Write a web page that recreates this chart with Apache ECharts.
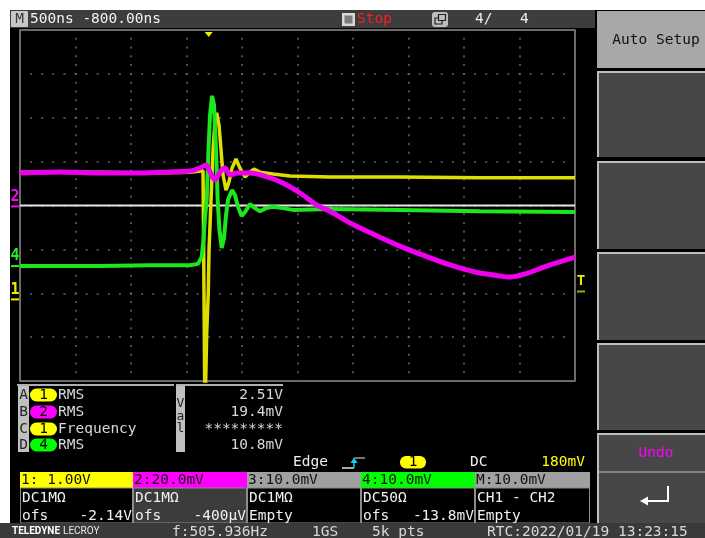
<!DOCTYPE html>
<html><head><meta charset="utf-8">
<script src="https://cdn.jsdelivr.net/npm/echarts@6/dist/echarts.min.js"></script>
<style>html,body{margin:0;padding:0;background:#fff;}#c{width:705px;height:538px;}</style>
</head><body><div id="c"></div>
<script>
// ---- acquisition settings ----
const timePerDiv = 500;     // ns / div
const timeLeft = -1700;     // ns at left edge of screen (trigger at 0)
const ch1Scale = 1.0, ch1Offset = -2.14;   // V/div, V
const ch2Scale = 20,  ch2Offset = -0.4;    // mV/div, mV
const ch4Scale = 10,  ch4Offset = -13.8;   // mV/div, mV
const trigLevel = 0.18;                    // V on CH1
const mathLevel = 0;                       // div (white trace)

// ---- CH1 (yellow), volts ----
const ch1Time  = [-1700,-979,-529,-168,-51,-33,-27,-18,-4,3,21,39,57,72,93,111,129,156,183,210,246,282,327,372,408,462,579,732,1093,1723,2444,3300];
const ch1Volts = [2.90,2.90,2.88,2.90,2.93,-2.86,-1.86,-0.77,0.15,1.13,2.27,3.40,4.09,4.25,3.97,3.40,2.84,2.49,2.68,2.99,3.20,2.99,2.79,2.90,2.97,2.90,2.86,2.81,2.79,2.79,2.77,2.77];
// ---- CH2 (magenta), mV ----
const ch2Time = [-1700,-1340,-979,-619,-349,-168,-78,-24,12,57,102,147,192,255,372,507,669,823,976,1120,1273,1498,1723,1949,2174,2399,2624,2714,2850,3075,3300];
const ch2mV   = [15.2,15.7,15.2,15.2,15.7,16.1,17.5,18.9,15.7,12.0,15.7,17.5,14.3,15.2,15.2,13.8,10.7,6.1,0.6,-3.0,-7.6,-13.0,-18.1,-22.6,-26.7,-29.9,-31.7,-32.2,-30.8,-26.7,-23.1];
// ---- CH4 (green), mV ----
const ch4Time = [-1700,-979,-529,-168,-96,-63,-47,-33,-18,-2,12,30,48,66,81,97,117,138,156,174,210,237,264,297,327,372,417,462,516,579,669,759,1093,1723,2444,3300];
const ch4mV   = [0.0,0.0,0.2,0.2,0.5,2.1,5.9,11.2,15.1,26.4,34.4,38.8,36.7,26.4,15.1,8.2,4.1,6.4,11.6,15.1,17.3,16.2,13.5,11.4,12.3,14.1,13.2,12.5,13.2,13.5,13.2,12.8,13.0,12.8,12.5,12.3];

// ---- panel texts ----
const measLetters = ['A','B','C','D'];
const measChannels = ['1','2','1','4'];
const measNames = ['RMS','RMS','Frequency','RMS'];
const measValues = ['2.51V','19.4mV','*********','10.8mV'];
const chHeaders = ['1: 1.00V','2:20.0mV','3:10.0mV','4:10.0mV','M:10.0mV'];
const chLine2 = ['DC1MΩ','DC1MΩ','DC1MΩ','DC50Ω','CH1 - CH2'];
const chLine3L = ['ofs','ofs','Empty','ofs','Empty'];
const chLine3R = ['-2.14V','-400µV','','-13.8mV',''];

const MONO = '"DejaVu Sans Mono", "Liberation Mono", monospace';
const YEL = '#ffff00', MAG = '#ff00ff', GRN = '#00ff00', GRY = '#a0a0a0';

const toX = t => (t - timeLeft) / timePerDiv;
const toDiv = (v, s, o) => (v + o) / s;
const mk = (ts, vs, s, o) => ts.map((t, i) => [toX(t), toDiv(vs[i], s, o)]);

const chart = echarts.init(document.getElementById('c'));
chart.setOption({
  animation: false,
  backgroundColor: '#000',
  grid: {left: 20, top: 30, width: 555, height: 351, show: true, backgroundColor: '#000', borderColor: '#8e8e8e', borderWidth: 1.5},
  xAxis: {type: 'value', min: 0, max: 10, interval: 1,
    axisLine: {show: false}, axisTick: {show: false}, axisLabel: {show: false},
    splitLine: {show: true, lineStyle: {color: '#686868', width: 1.5, type: [2, 6.775], dashOffset: 1}}},
  yAxis: {type: 'value', min: -4, max: 4, interval: 1,
    axisLine: {show: false}, axisTick: {show: false}, axisLabel: {show: false},
    splitLine: {show: true, lineStyle: {color: '#686868', width: 1.5, type: [2, 9.1], dashOffset: 1}}},
  series: [
    {type: 'line', data: [[0, mathLevel], [10, mathLevel]], symbol: 'none', silent: true,
      lineStyle: {color: '#e6e6e6', width: 2}},
    {type: 'line', data: mk(ch1Time, ch1Volts, ch1Scale, ch1Offset), symbol: 'none', silent: true,
      lineStyle: {color: '#dede00', width: 3.5}},
    {type: 'line', data: mk(ch4Time, ch4mV, ch4Scale, ch4Offset), symbol: 'none', silent: true,
      lineStyle: {color: '#1ee61e', width: 4}},
    {type: 'line', data: mk(ch2Time, ch2mV, ch2Scale, ch2Offset), symbol: 'none', silent: true, smooth: 0.3,
      lineStyle: {color: '#ee00ee', width: 5}}
  ]
});

function txt(x, y, s, fill, o) {
  o = o || {};
  const al = o.align || 'left', va = o.va || 'middle';
  return {type: 'text', z: 100, x: x, y: y, silent: true,
    style: {text: s, fill: fill, fontSize: o.size || 14.5, fontFamily: o.family || MONO,
      fontWeight: o.weight || 'normal', textAlign: al, align: al, textVerticalAlign: va, verticalAlign: va}};
}
function rect(x, y, w, h, fill, o) {
  o = o || {};
  return {type: 'rect', z: o.z || 90, silent: true, shape: {x: x, y: y, width: w, height: h, r: o.r || 0},
    style: {fill: fill, stroke: o.stroke || null, lineWidth: o.lw || 1}};
}
function ln(x1, y1, x2, y2, stroke, w, z) {
  return {type: 'line', z: z || 95, silent: true, shape: {x1: x1, y1: y1, x2: x2, y2: y2}, style: {stroke: stroke, lineWidth: w || 1}};
}

const py = d => chart.convertToPixel({gridIndex: 0}, [0, d])[1];
const px = x => chart.convertToPixel({gridIndex: 0}, [x, 0])[0];

const g = [];
// white margins
g.push(rect(0, 0, 705, 10, '#fff', {z: 80}));
g.push(rect(0, 0, 10, 523, '#fff', {z: 80}));
// top bar
g.push(rect(10, 10, 585, 18, '#3d3d3d'));
g.push(rect(11, 11, 17, 16, '#c8c8c8', {r: 1}));
g.push(txt(19.5, 19.5, 'M', '#3a3a3a', {align: 'center'}));
g.push(txt(30, 19.5, '500ns -800.00ns', '#f2f2f2'));
g.push(rect(342, 13, 13, 13, '#d8d8d8'));
g.push(rect(344.5, 15.5, 8, 8, '#7a7a7a', {z: 91}));
g.push(txt(357, 19.5, 'Stop', '#ff1e1e'));
g.push(rect(432, 12, 16, 15, '#bdbdbd', {r: 3}));
g.push(rect(435, 18, 7, 6, null, {z: 91, stroke: '#222', lw: 1.2}));
g.push(rect(438.5, 14.5, 7, 6, '#bdbdbd', {z: 92, stroke: '#222', lw: 1.2}));
g.push(txt(475, 19.5, '4/', '#ececec'));
g.push(txt(520, 19.5, '4', '#ececec'));

// right-hand soft buttons
g.push(rect(597, 11, 108, 57, '#a8a8a8'));
g.push(txt(656, 40, 'Auto Setup', '#111', {align: 'center'}));
[[71, 157], [161, 249], [252, 340], [343, 430], [433, 523]].forEach(function (b) {
  g.push(rect(597, b[0], 108, b[1] - b[0], '#474747'));
  g.push(ln(597, b[0] + 1, 705, b[0] + 1, '#bdbdbd', 2));
  g.push(ln(598, b[0], 598, b[1], '#bdbdbd', 2));
});
g.push(txt(656, 453, 'Undo', '#ff00ff', {align: 'center'}));
g.push(ln(599, 472, 705, 472, '#9a9a9a', 1.5));
g.push({type: 'polyline', z: 96, silent: true, shape: {points: [[668, 486], [668, 501], [646, 501]]}, style: {stroke: '#fff', lineWidth: 2, fill: null}});
g.push({type: 'polygon', z: 96, silent: true, shape: {points: [[640, 501], [648, 496.5], [648, 505.5]]}, style: {fill: '#fff'}});

// measurement panel
g.push(ln(17, 385, 174, 385, '#b0b0b0', 2));
g.push(rect(18, 386, 11, 66, '#c0c0c0'));
g.push(ln(176, 385, 283, 385, '#b0b0b0', 2));
g.push(rect(176, 386, 9, 66, '#c0c0c0'));
g.push(txt(180.5, 404, 'V', '#222', {align: 'center', size: 13}));
g.push(txt(180.5, 417, 'a', '#222', {align: 'center', size: 13}));
g.push(txt(180.5, 429, 'l', '#222', {align: 'center', size: 13}));
const pillCol = {'1': YEL, '2': MAG, '4': GRN};
const rowY = [395, 412, 429, 445];
measLetters.forEach(function (L, i) {
  const y = rowY[i];
  g.push(txt(23.5, y, L, '#262626', {align: 'center'}));
  g.push(rect(30, y - 6.5, 27, 13, pillCol[measChannels[i]], {r: 6.5}));
  g.push(txt(43.5, y, measChannels[i], '#000', {align: 'center'}));
  g.push(txt(58, y, measNames[i], '#d8d8d8'));
  g.push(txt(283, y, measValues[i], '#d8d8d8', {align: 'right'}));
});

// trigger row
g.push(txt(293, 462, 'Edge', '#f0f0f0'));
g.push(ln(342, 468, 354, 468, '#e0e0e0', 1.5));
g.push(ln(354, 468, 354, 459, '#00d8e8', 1.5));
g.push({type: 'polygon', z: 96, silent: true, shape: {points: [[350.5, 463], [354, 457.5], [357.5, 463]]}, style: {fill: '#00d8e8'}});
g.push(ln(354, 458, 365, 458, '#9a9a9a', 1.5));
g.push(rect(400, 456, 26, 12.5, YEL, {r: 6}));
g.push(txt(413, 462.5, '1', '#000', {align: 'center'}));
g.push(txt(470, 462, 'DC', '#f0f0f0'));
g.push(txt(585, 462, '180mV', '#ffff00', {align: 'right'}));

// channel boxes
const boxX = [20, 133, 247, 361, 475, 590];
const hdrCol = [YEL, MAG, GRY, GRN, GRY];
const lowCol = ['#000', '#3c3c3c', '#000', '#000', '#000'];
chHeaders.forEach(function (h, i) {
  const x0 = boxX[i], w = boxX[i + 1] - x0;
  g.push(rect(x0, 472, w, 16, hdrCol[i]));
  g.push(rect(x0 + 0.5, 488, w - 1, 35, lowCol[i], {stroke: '#8c8c8c', lw: 1}));
  g.push(txt(x0 + 1, 480.5, h, '#111'));
  g.push(txt(x0 + 2, 498, chLine2[i], '#f0f0f0'));
  g.push(txt(x0 + 2, 516, chLine3L[i], '#f0f0f0'));
  if (chLine3R[i]) g.push(txt(boxX[i + 1] - 1, 516, chLine3R[i], '#f0f0f0', {align: 'right'}));
});

// bottom status bar
g.push(rect(0, 523, 705, 15, '#3a3a3a'));
g.push(txt(12, 531.5, 'TELEDYNE', '#ffffff', {family: 'Roboto', weight: 'bold', size: 10}));
g.push(txt(63, 531.5, 'LECROY', '#e8e8e8', {family: 'Roboto', size: 10}));
g.push(txt(172, 525, 'f:505.936Hz', '#d8d8d8', {va: 'top'}));
g.push(txt(312, 525, '1GS', '#d8d8d8', {va: 'top'}));
g.push(txt(372, 525, '5k pts', '#d8d8d8', {va: 'top'}));
g.push(txt(487, 525, 'RTC:2022/01/19 13:23:15', '#d8d8d8', {va: 'top'}));

// channel ground level markers (left) and trigger markers
[[toDiv(0, ch2Scale, ch2Offset), '2', '#ff00ff'],
 [toDiv(0, ch4Scale, ch4Offset), '4', '#22ee22'],
 [toDiv(0, ch1Scale, ch1Offset), '1', '#eeee00']].forEach(function (m) {
  const y = py(m[0]);
  g.push(txt(15, y - 2, m[1], m[2], {align: 'center', va: 'bottom', size: 15, weight: 'bold'}));
  g.push(ln(11, y, 19, y, m[2], 2));
});
const ty = py(toDiv(trigLevel, ch1Scale, ch1Offset));
g.push(txt(581, ty - 3, 'T', '#eeee00', {align: 'center', va: 'bottom', size: 14, weight: 'bold'}));
g.push(ln(577, ty, 585, ty, '#a8a800', 2));
const tx = px(toX(0));
g.push({type: 'polygon', z: 96, silent: true, shape: {points: [[tx - 4, 32], [tx + 4, 32], [tx, 37]]}, style: {fill: '#f0f000'}});

chart.setOption({graphic: {elements: g}});
</script>
</body></html>
